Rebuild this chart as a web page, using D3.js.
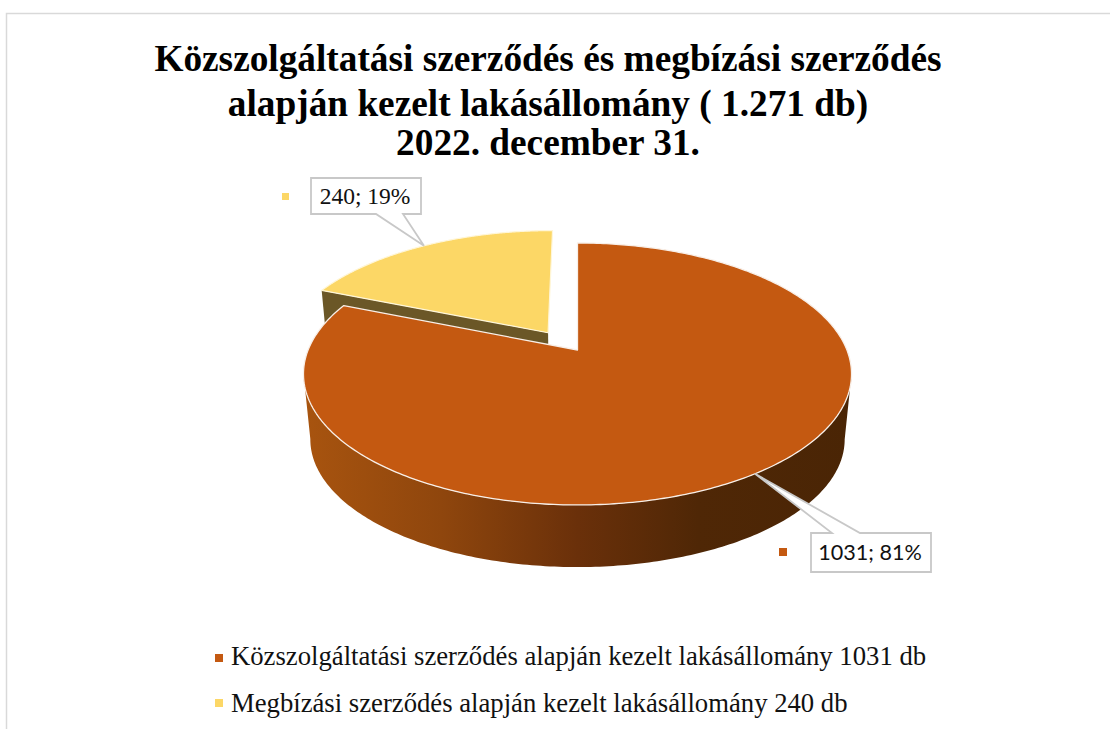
<!DOCTYPE html>
<html><head><meta charset="utf-8">
<script src="https://cdn.jsdelivr.net/npm/d3@7"></script>
<style>html,body{margin:0;padding:0;background:#fff;overflow:hidden}</style>
</head><body><svg id="c" width="1110" height="729"></svg>
<script>
const categories = ["Közszolgáltatási szerződés alapján kezelt lakásállomány 1031 db","Megbízási szerződés alapján kezelt lakásállomány 240 db"];
const values = [1031, 240];
const percents = [81, 19];
const colors = ["#C45911", "#FCD766"];
const titleLines = ["Közszolgáltatási szerződés és megbízási szerződés","alapján kezelt lakásállomány ( 1.271 db)","2022. december 31."];

const svg = d3.select("#c");
const serif = "'Liberation Serif'";
svg.append("rect").attr("x",6.5).attr("y",13.5).attr("width",1200).attr("height",800).attr("fill","#fff").attr("stroke","#d9d9d9").attr("stroke-width",1.5);

const defs = svg.append("defs");
const g = defs.append("linearGradient").attr("id","wall").attr("gradientUnits","userSpaceOnUse").attr("x1",304).attr("x2",852).attr("y1",0).attr("y2",0);
[[0,"#A8540F"],[0.25,"#8F460D"],[0.5,"#6A300A"],[0.72,"#4F2706"],[1,"#4A2505"]].forEach(s=>g.append("stop").attr("offset",s[0]).attr("stop-color",s[1]));

// perspective projection of the pie plane
const cx=577.5, cy=350, W=269.4, H=126.6, k=0.183, wallDrop=66, wallScale=0.975, explodeX=-0.112, explodeZ=0.14;
function project(X,Z,lower){
  const d=1+k*Z, s=lower?wallScale:1, dy=lower?wallDrop:0;
  return [cx+s*W*X/d, cy+dy-s*H*Z/d];
}
const arcs = d3.pie().sort(null).value(d=>d)(values);
const offs = arcs.map((a,i)=>i===1?[explodeX,explodeZ]:[0,0]);
const rim=(a,i,r,lower)=>project(offs[i][0]+r*Math.sin(a),offs[i][1]+r*Math.cos(a),lower);
const samples=a=>d3.range(0,361).map(t=>a.startAngle+(a.endAngle-a.startAngle)*t/360);
const line=d3.line();
const topFace=(i)=>line([rim(0,i,0,false),...samples(arcs[i]).map(a=>rim(a,i,1,false))])+"Z";

// yellow slice cut face
const ySlice=arcs[1];
svg.append("path").attr("d",line([rim(ySlice.startAngle,1,1,false),rim(0,1,0,false),rim(0,1,0,true),rim(ySlice.startAngle,1,1,true)])+"Z").attr("fill","#6B5727");
svg.append("path").attr("d",topFace(1)).attr("fill",colors[1]).attr("stroke","#FFF6D8").attr("stroke-width",1.2).attr("stroke-linejoin","round");

// orange slice wall (between the widest points of the rims) and top
const os=samples(arcs[0]);
const front=lower=>{
  const pts=os.map(a=>rim(a,0,1,lower));
  const iR=d3.greatestIndex(pts,p=>p[0]), iL=d3.leastIndex(pts,p=>p[0]);
  return pts.slice(iR,iL+1);
};
svg.append("path").attr("d",line([...front(false),...front(true).reverse()])+"Z").attr("fill","url(#wall)");
svg.append("path").attr("d",topFace(0)).attr("fill",colors[0]).attr("stroke","#F8EFE8").attr("stroke-width",1.3).attr("stroke-linejoin","round");

// title
svg.append("g").selectAll("text").data(titleLines).join("text")
 .attr("x",548).attr("y",(d,i)=>[70.5,116,155][i]).attr("text-anchor","middle")
 .attr("font-family",serif).attr("font-weight","bold").attr("font-size",37.3).attr("fill","#000").text(d=>d);

// data labels
const mid=a=>(a.startAngle+a.endAngle)/2;
function callout(i,box,base,font,size,sq,dx){
  const tip=rim(mid(arcs[i]),i,1,false);
  const [x,yy,w,h]=box, up=base.y===yy+h;
  const path = up
    ? [[x,yy],[x+w,yy],[x+w,yy+h],[base.b,yy+h],tip,[base.a,yy+h],[x,yy+h]]
    : [[x,yy],[base.a,yy],tip,[base.b,yy],[x+w,yy],[x+w,yy+h],[x,yy+h]];
  svg.append("path").attr("d",line(path)+"Z").attr("fill","#fff").attr("stroke","#C8C8C8").attr("stroke-width",1.8);
  svg.append("text").attr("x",x+w/2+dx).attr("y",yy+h/2+7.5).attr("text-anchor","middle").attr("font-family",font).attr("font-size",size).attr("fill","#111").text(`${values[i]}; ${percents[i]}%`);
  svg.append("rect").attr("x",sq[0]).attr("y",sq[1]).attr("width",sq[2]).attr("height",sq[2]).attr("fill",colors[i]);
}
callout(1,[311,178,110,36],{y:214,a:376,b:403},serif,23.5,[282,193,7],-1);
callout(0,[811,533,120,39],{y:533,a:832,b:860},"Lato",21.6,[779,548,8],-1);

// legend
const ly=[665,712], lsq=[654,699];
categories.forEach((c,i)=>{
  svg.append("rect").attr("x",215).attr("y",lsq[i]).attr("width",8).attr("height",8).attr("fill",colors[i]);
  svg.append("text").attr("x",231).attr("y",ly[i]).attr("font-family",serif).attr("font-size",26.7).attr("fill","#111").text(c);
});
</script></body></html>
